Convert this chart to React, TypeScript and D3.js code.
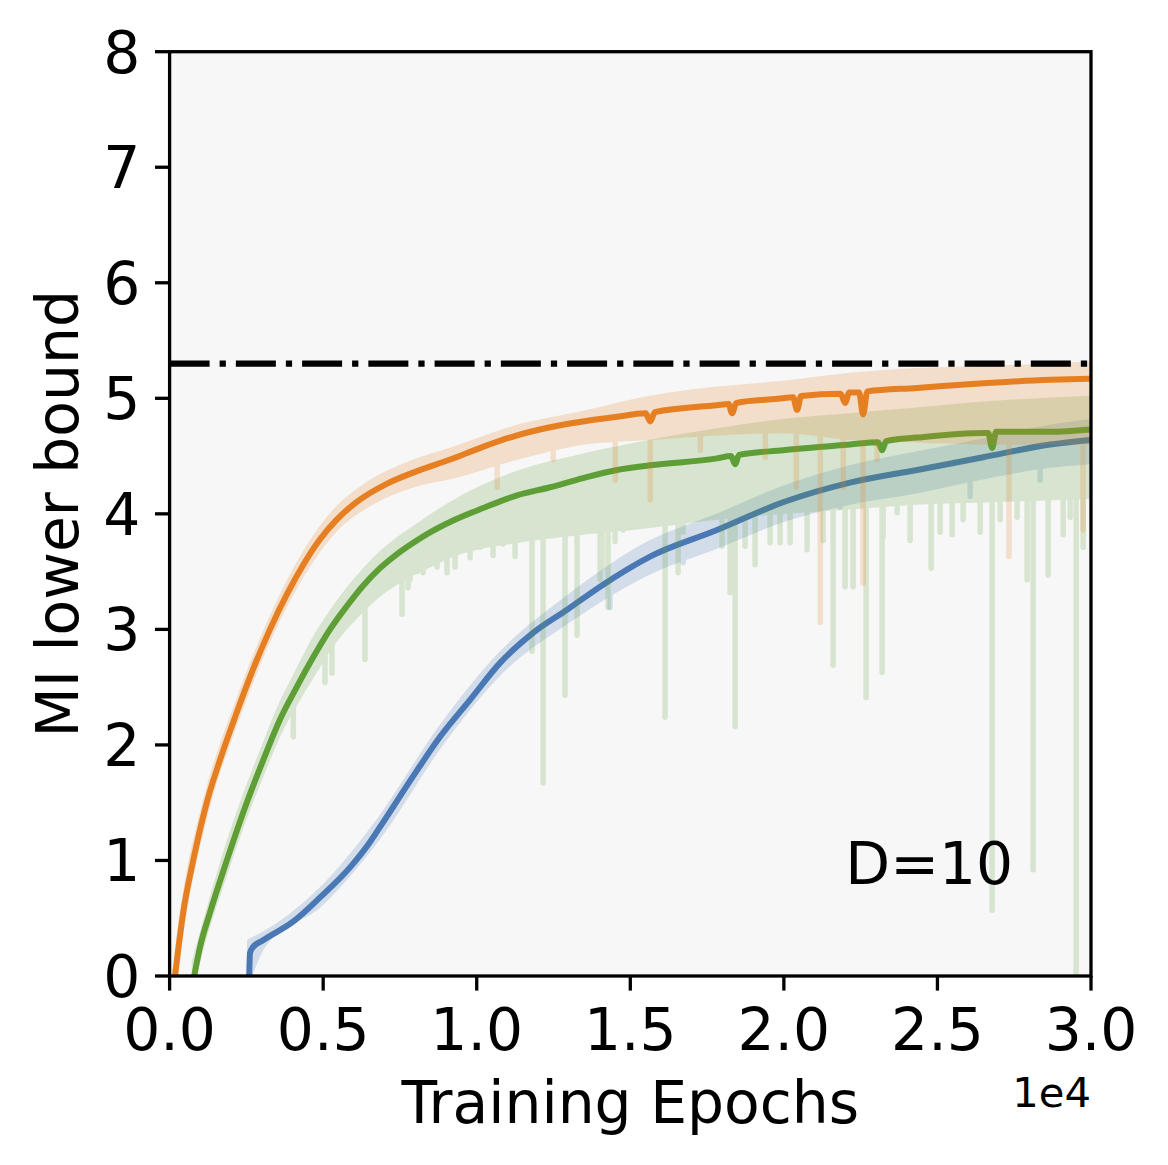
import { useEffect, useRef } from "react";
import * as d3 from "d3";

type Pt = [number, number];
type Band = [number, number, number]; // epoch, low, high

const X_TICKS = [0, 5000, 10000, 15000, 20000, 25000, 30000];
const Y_TICKS = [0, 1, 2, 3, 4, 5, 6, 7, 8];
const TRUE_MI = 5.3;
const LABEL = "D=10";

// smoothed curves
const blueLine: Pt[] = [
  [2592, 0], [2618, 0.2], [2715, 0.25], [3042, 0.31], [4019, 0.47], [4898, 0.68],
  [5874, 0.94], [6526, 1.16], [6851, 1.29], [8056, 1.78], [8805, 2.07], [9782, 2.39],
  [10760, 2.71], [11834, 2.97], [12941, 3.17], [14016, 3.37], [15643, 3.63],
  [17824, 3.86], [19974, 4.1], [22156, 4.27], [24340, 4.38], [26489, 4.49],
  [28670, 4.6], [29974, 4.64],
];
const greenLine: Pt[] = [
  [801, 0], [990, 0.25], [1316, 0.55], [1800, 0.95], [2511, 1.5], [3051, 1.87],
  [3595, 2.22], [4139, 2.5], [4679, 2.76], [5223, 3.0], [5767, 3.2], [6307, 3.38],
  [6851, 3.53], [7395, 3.65], [7936, 3.75], [8479, 3.84], [9130, 3.93], [10205, 4.05],
  [11312, 4.16], [12387, 4.23], [13461, 4.31], [14568, 4.38], [15643, 4.42],
  [17824, 4.48], [18280, 4.5], [18411, 4.43], [18540, 4.51], [19974, 4.55],
  [22156, 4.6], [23070, 4.62], [23199, 4.55], [23330, 4.63], [24340, 4.66],
  [26489, 4.7], [26650, 4.7], [26782, 4.57], [26910, 4.71], [28670, 4.71], [29974, 4.73],
];
const orangeLine: Pt[] = [
  [176, 0], [443, 0.55], [769, 1.0], [1208, 1.5], [1641, 1.87], [2185, 2.28],
  [2725, 2.66], [3269, 3.0], [3813, 3.3], [4354, 3.56], [4897, 3.78], [5441, 3.95],
  [5982, 4.08], [6526, 4.18], [7069, 4.26], [8056, 4.37], [9130, 4.47], [10205, 4.58],
  [11312, 4.68], [12387, 4.75], [13461, 4.8], [14568, 4.84], [15500, 4.87],
  [15650, 4.8], [15800, 4.88], [17824, 4.94], [18200, 4.95], [18313, 4.87],
  [18450, 4.96], [19974, 5.0], [20300, 5.01], [20430, 4.9], [20560, 5.02],
  [21850, 5.04], [21993, 4.96], [22130, 5.05], [22450, 5.05], [22579, 4.86],
  [22720, 5.06], [24340, 5.09], [26489, 5.13], [28670, 5.16], [29974, 5.17],
];

// raw (unsmoothed) spread around each curve
const blueBand: Band[] = [
  [2600, 0, 0.3], [3042, 0.26, 0.36], [4898, 0.62, 0.74], [6851, 1.22, 1.36],
  [8805, 2.0, 2.14], [10760, 2.63, 2.78], [12941, 3.07, 3.27], [15643, 3.5, 3.75],
  [17824, 3.72, 3.98], [19974, 3.95, 4.22], [22156, 4.1, 4.4], [24340, 4.2, 4.52],
  [26489, 4.32, 4.63], [28670, 4.42, 4.75], [29974, 4.45, 4.8],
];
const greenBand: Band[] = [
  [801, 0, 0.12], [990, 0.2, 0.3], [1800, 0.88, 1.05], [2511, 1.42, 1.6],
  [3051, 1.78, 1.97], [3595, 2.12, 2.33], [4139, 2.38, 2.62], [4679, 2.62, 2.9],
  [5223, 2.85, 3.13], [5767, 3.03, 3.33], [6307, 3.18, 3.5], [6851, 3.31, 3.65],
  [7395, 3.41, 3.77], [7936, 3.49, 3.87], [8479, 3.56, 3.97], [9130, 3.64, 4.08],
  [11312, 3.77, 4.35], [13461, 3.84, 4.5], [15643, 3.9, 4.62], [17824, 3.97, 4.72],
  [19974, 4.02, 4.8], [22156, 4.06, 4.85], [24340, 4.1, 4.9], [26489, 4.12, 4.95],
  [29974, 4.15, 5.0],
];
const orangeBand: Band[] = [
  [176, 0, 0.05], [443, 0.5, 0.6], [1208, 1.44, 1.56], [2185, 2.22, 2.35],
  [3269, 2.94, 3.07], [4354, 3.49, 3.64], [5441, 3.88, 4.04], [6526, 4.09, 4.27],
  [8056, 4.26, 4.46], [9130, 4.32, 4.55], [11312, 4.49, 4.75], [13461, 4.62, 4.87],
  [15643, 4.66, 5.0], [17824, 4.7, 5.08], [19974, 4.72, 5.13], [22156, 4.66, 5.2],
  [24340, 4.64, 5.24], [26489, 4.62, 5.26], [28670, 4.62, 5.28], [29974, 4.62, 5.3],
];

// downward spikes of the raw estimates: epoch, lowest value
const blueSpikes: Pt[] = [
  [14341, 3.19], [16719, 3.58], [21831, 4.06], [26065, 4.15], [28344, 4.29],
];
const greenSpikes: Pt[] = [
  [4028, 2.07], [4507, 2.74], [4800, 2.67], [5060, 2.54], [5288, 2.62], [5646, 3.14],
  [5939, 3.08], [6362, 2.74], [6623, 3.33], [6949, 3.34], [7567, 3.13], [7763, 3.36],
  [7827, 3.43], [8056, 3.5], [8251, 3.49], [8707, 3.54], [9032, 3.49], [9293, 3.54],
  [9782, 3.62], [10107, 3.71], [10531, 3.64], [10856, 3.74], [11247, 3.63], [11638, 3.8],
  [11800, 2.81], [12159, 1.67], [12387, 3.89], [12778, 3.89], [12875, 2.43], [13266, 2.95],
  [13461, 3.92], [13917, 3.92], [14016, 3.43], [14081, 3.54], [14276, 3.19], [14504, 3.76],
  [14666, 3.89], [14764, 3.86], [15155, 3.89], [16132, 2.24], [16556, 3.49], [16719, 3.84],
  [17272, 4.1], [17663, 3.97], [17988, 3.72], [18249, 3.32], [18412, 2.16], [18737, 3.72],
  [19063, 3.56], [19551, 3.75], [19877, 3.75], [20203, 3.75], [20756, 3.69], [21277, 3.77],
  [21603, 2.69], [21994, 3.37], [22254, 3.37], [22677, 2.41], [23199, 2.63], [23231, 3.8],
  [23687, 4.01], [24111, 3.77], [24795, 3.53], [25087, 3.84], [25479, 3.82], [25837, 3.95],
  [26391, 3.84], [26781, 0.57], [27042, 3.95], [27594, 3.97], [27921, 3.43], [28116, 0.92],
  [28605, 3.47], [29094, 3.82], [29320, 3.97], [29517, 0], [29745, 3.71],
];
const orangeSpikes: Pt[] = [
  [9690, 4.36], [10667, 4.23], [12491, 4.47], [14510, 4.29], [15650, 4.12], [17278, 4.55],
  [19394, 4.49], [20404, 4.23], [21186, 3.06], [21935, 4.23], [22579, 3.4], [23035, 4.47],
  [27330, 3.63], [29739, 3.86],
];

const SERIES = [
  { name: "blue", color: "#4a78b4", line: blueLine, band: blueBand, spikes: blueSpikes },
  { name: "green", color: "#5e9e36", line: greenLine, band: greenBand, spikes: greenSpikes },
  { name: "orange", color: "#e67f22", line: orangeLine, band: orangeBand, spikes: orangeSpikes },
];

const W = 1168;
const H = 1165;
const M = { left: 169.6, right: 1091, top: 51.7, bottom: 976 };
const FONT = "DejaVu Sans, sans-serif";

export default function App() {
  const svgRef = useRef<SVGSVGElement>(null);

  useEffect(() => {
    if (!svgRef.current) return;
    const svg = d3.select(svgRef.current);
    svg.selectAll("*").remove();

    const x = d3.scaleLinear().domain([0, 30000]).range([M.left, M.right]);
    const y = d3.scaleLinear().domain([0, 8]).range([M.bottom, M.top]);

    svg.append("rect").attr("width", W).attr("height", H).attr("fill", "#ffffff");
    svg
      .append("rect")
      .attr("x", M.left)
      .attr("y", M.top)
      .attr("width", M.right - M.left)
      .attr("height", M.bottom - M.top)
      .attr("fill", "#f7f7f7");

    svg
      .append("clipPath")
      .attr("id", "plot-clip")
      .append("rect")
      .attr("x", M.left)
      .attr("y", M.top)
      .attr("width", M.right - M.left)
      .attr("height", M.bottom - M.top);

    const plot = svg.append("g").attr("clip-path", "url(#plot-clip)");

    const area = d3
      .area<Band>()
      .x((d) => x(d[0]))
      .y0((d) => y(d[1]))
      .y1((d) => y(d[2]))
      .curve(d3.curveMonotoneX);

    const line = d3
      .line<Pt>()
      .x((d) => x(d[0]))
      .y((d) => y(d[1]))
      .curve(d3.curveMonotoneX);

    SERIES.forEach((s) => {
      // raw estimate, drawn faint as one group so overlaps don't stack
      const raw = plot.append("g").attr("opacity", 0.2);
      raw
        .append("path")
        .attr("d", area(s.band))
        .attr("fill", s.color)
        .attr("stroke", s.color)
        .attr("stroke-width", 5)
        .attr("stroke-linejoin", "round");

      const lineAt = d3
        .scaleLinear()
        .domain(s.line.map((d) => d[0]))
        .range(s.line.map((d) => d[1]))
        .clamp(true);

      raw
        .selectAll("line")
        .data(s.spikes)
        .join("line")
        .attr("x1", (d) => x(d[0]))
        .attr("x2", (d) => x(d[0]))
        .attr("y1", (d) => y(lineAt(d[0])))
        .attr("y2", (d) => y(d[1]))
        .attr("stroke", s.color)
        .attr("stroke-width", 5.5)
        .attr("stroke-linecap", "round");

      plot
        .append("path")
        .attr("d", line(s.line))
        .attr("fill", "none")
        .attr("stroke", s.color)
        .attr("stroke-width", 6)
        .attr("stroke-linejoin", "round");
    });

    // true MI
    plot
      .append("line")
      .attr("x1", M.left)
      .attr("x2", M.right)
      .attr("y1", y(TRUE_MI))
      .attr("y2", y(TRUE_MI))
      .attr("stroke", "#000")
      .attr("stroke-width", 6.25)
      .attr("stroke-dasharray", "40,10,6.25,10");

    // spines
    svg
      .append("rect")
      .attr("x", M.left)
      .attr("y", M.top)
      .attr("width", M.right - M.left)
      .attr("height", M.bottom - M.top)
      .attr("fill", "none")
      .attr("stroke", "#000")
      .attr("stroke-width", 3.3);

    const tickLen = 14.6;

    const xt = svg.append("g");
    X_TICKS.forEach((t) => {
      xt.append("line")
        .attr("x1", x(t))
        .attr("x2", x(t))
        .attr("y1", M.bottom)
        .attr("y2", M.bottom + tickLen)
        .attr("stroke", "#000")
        .attr("stroke-width", 3.3);
      xt.append("text")
        .attr("x", x(t))
        .attr("y", 1050)
        .attr("text-anchor", "middle")
        .attr("font-family", FONT)
        .attr("font-size", 58.3)
        .text((t / 10000).toFixed(1));
    });

    const yt = svg.append("g");
    Y_TICKS.forEach((t) => {
      yt.append("line")
        .attr("x1", M.left - tickLen)
        .attr("x2", M.left)
        .attr("y1", y(t))
        .attr("y2", y(t))
        .attr("stroke", "#000")
        .attr("stroke-width", 3.3);
      yt.append("text")
        .attr("x", M.left - tickLen - 14.6)
        .attr("y", y(t) + 20.8)
        .attr("text-anchor", "end")
        .attr("font-family", FONT)
        .attr("font-size", 58.3)
        .text(String(t));
    });

    svg
      .append("text")
      .attr("x", M.right)
      .attr("y", 1107)
      .attr("text-anchor", "end")
      .attr("font-family", FONT)
      .attr("font-size", 41.7)
      .text("1e4");

    svg
      .append("text")
      .attr("x", (M.left + M.right) / 2)
      .attr("y", 1123)
      .attr("text-anchor", "middle")
      .attr("font-family", FONT)
      .attr("font-size", 58.3)
      .text("Training Epochs");

    svg
      .append("text")
      .attr("transform", `translate(78,${(M.top + M.bottom) / 2}) rotate(-90)`)
      .attr("text-anchor", "middle")
      .attr("font-family", FONT)
      .attr("font-size", 58.3)
      .text("MI lower bound");

    svg
      .append("text")
      .attr("x", x(22000))
      .attr("y", y(0.8))
      .attr("font-family", FONT)
      .attr("font-size", 58.3)
      .text(LABEL);
  }, []);

  return (
    <div style={{ position: "absolute", left: 0, top: 0 }}>
      <svg ref={svgRef} width={W} height={H} style={{ display: "block" }} />
    </div>
  );
}
